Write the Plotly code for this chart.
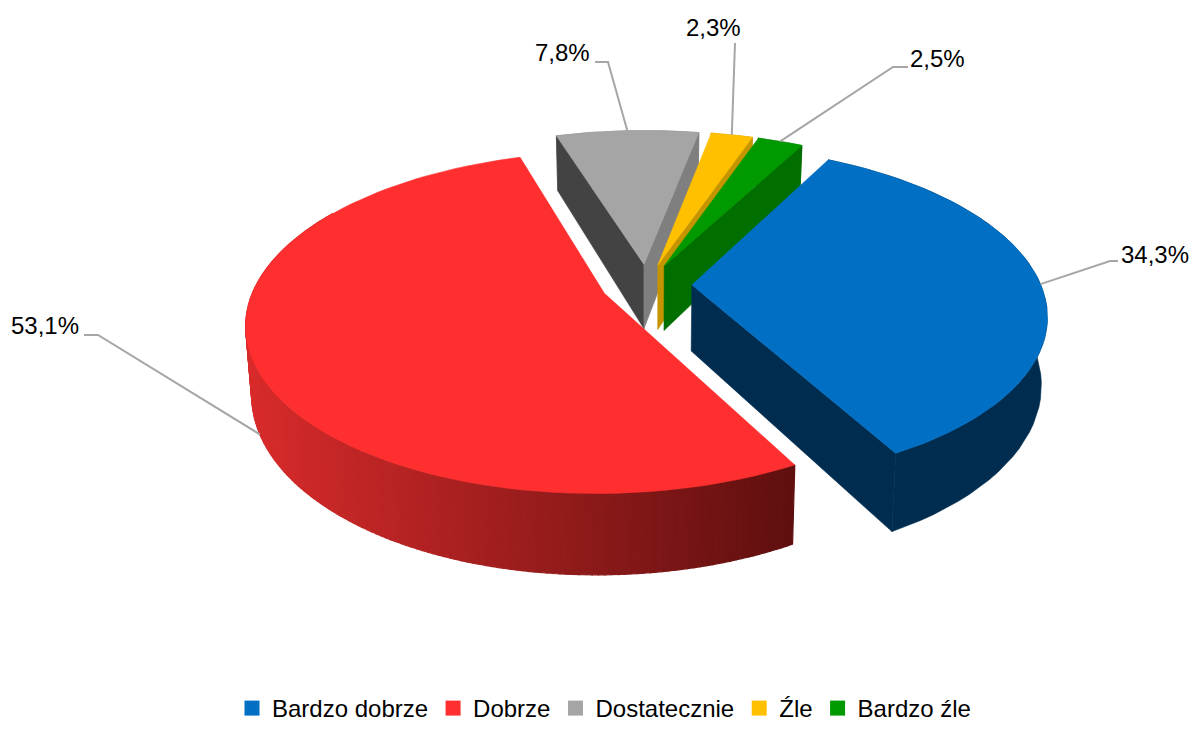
import math
import plotly.graph_objects as go

# ---- data ----
categories = ["Bardzo dobrze", "Dobrze", "Dostatecznie", "Źle", "Bardzo źle"]
shares = [34.3, 53.1, 7.8, 2.3, 2.5]
labels = ["34,3%", "53,1%", "7,8%", "2,3%", "2,5%"]

# ---- styles ----
top_colors = ["#006fc4", "#ff2f2f", "#a5a5a5", "#ffc000", "#009a00"]
start_walls = [None, None, "#434343", None, None]
end_walls = ["#002d4f", None, "#7f7f7f", "#c49500", "#006f00"]
rim_walls = ["#002d4f", None, "#7f7f7f", "#c49500", "#006f00"]
draw_order = [2, 3, 4, 0, 1]
FONT = "Liberation Sans, Arial, sans-serif"

# ---- projection of the tilted, exploded disc ----
OX, OY = 646.5, 285
A, B, P = 349, 163, 0.17
EXPLODE = 0.13
START = 28.0
D0, B2, XS = 66, 175, 0.985

def pt(theta, r, mid, low=False):
    """Plane point at angle theta (deg clockwise from north), on the top or bottom face."""
    t, m = math.radians(theta), math.radians(mid)
    u = r * math.sin(t) + EXPLODE * math.sin(m)
    v = -r * math.cos(t) - EXPLODE * math.cos(m)
    s = 1 / (1 - P * v)
    if low:
        return OX + XS * A * u * s, OY + D0 + B2 * v * s
    return OX + A * u * s, OY + B * v * s

def frange(a, b, n):
    return [a + (b - a) * i / n for i in range(n + 1)]

def poly(fig, pts, color, lw=0.6):
    fig.add_trace(go.Scatter(
        x=[p[0] for p in pts] + [pts[0][0]], y=[p[1] for p in pts] + [pts[0][1]],
        mode="lines", fill="toself", fillcolor=color,
        line=dict(color=color, width=lw), hoverinfo="skip", showlegend=False))

def mix(c1, c2, f):
    return "rgb(%d,%d,%d)" % tuple(round(a + (b - a) * f) for a, b in zip(c1, c2))

total = sum(shares)
spans = []
a0 = START
for sh in shares:
    a1 = a0 + 360 * sh / total
    spans.append((a0, a1))
    a0 = a1

fig = go.Figure()
for i in draw_order:
    a, b = spans[i]
    m = (a + b) / 2
    if rim_walls[i]:
        arc = frange(a, b, 48)
        poly(fig, [pt(t, 1, m) for t in arc] + [pt(t, 1, m, True) for t in reversed(arc)], rim_walls[i])
    else:
        # shaded outer wall: bright on the left, dark on the right
        arc = frange(a, min(b, a + 150), 170)
        for t0, t1 in zip(arc[:-1], arc[1:]):
            x = pt(t0, 1, m)[0]
            f = max(0.0, min(1.0, (x - 250) / (798 - 250)))
            poly(fig, [pt(t0, 1, m), pt(t1, 1, m), pt(t1, 1, m, True), pt(t0, 1, m, True)],
                 mix((216, 43, 43), (95, 15, 15), f), lw=1.2)
    if start_walls[i]:
        poly(fig, [pt(a, 0, m), pt(a, 1, m), pt(a, 1, m, True), pt(a, 0, m, True)], start_walls[i])
    if end_walls[i]:
        poly(fig, [pt(b, 0, m), pt(b, 1, m), pt(b, 1, m, True), pt(b, 0, m, True)], end_walls[i])
    arc = frange(a, b, 90)
    poly(fig, [pt(a, 0, m)] + [pt(t, 1, m) for t in arc], top_colors[i])

# ---- leader lines and labels ----
anchor_low = [False, True, False, False, False]
leader_elbows = [((1110, 261), (1118, 261)), ((98, 335), (84, 335)), ((608, 62), (595, 62)),
                 ((735, 43),), ((893, 67), (908, 67))]
label_pos = [(1155, 254), (45, 325), (562, 52), (713, 27), (937, 58)]
for i, (a, b) in enumerate(spans):
    m = (a + b) / 2
    start = pt(m, 1, m, anchor_low[i])
    path = [start] + list(leader_elbows[i])
    fig.add_trace(go.Scatter(x=[p[0] for p in path], y=[p[1] for p in path], mode="lines",
                             line=dict(color="#a6a6a6", width=2), hoverinfo="skip", showlegend=False))
    fig.add_annotation(x=label_pos[i][0], y=label_pos[i][1], text=labels[i], showarrow=False,
                       xanchor="center", yanchor="middle",
                       font=dict(family=FONT, size=24, color="#000000"))

# ---- legend ----
for name, c in zip(categories, top_colors):
    fig.add_trace(go.Scatter(x=[None], y=[None], mode="markers", name=name,
                             marker=dict(symbol="square", size=15, color=c)))

# the page has an 8px body margin, so the figure is 8px smaller than the window
fig.update_layout(
    width=1192, height=723, margin=dict(l=0, r=0, t=0, b=0),
    paper_bgcolor="#ffffff", plot_bgcolor="#ffffff",
    xaxis=dict(range=[8, 1200], visible=False, fixedrange=True),
    yaxis=dict(range=[731, 8], visible=False, fixedrange=True),
    legend=dict(orientation="h", x=0.5, xanchor="center", y=0.0, yanchor="bottom",
                font=dict(family=FONT, size=24, color="#000000"), itemwidth=30,
                bgcolor="rgba(0,0,0,0)"),
)
fig.write_html("out.html")
